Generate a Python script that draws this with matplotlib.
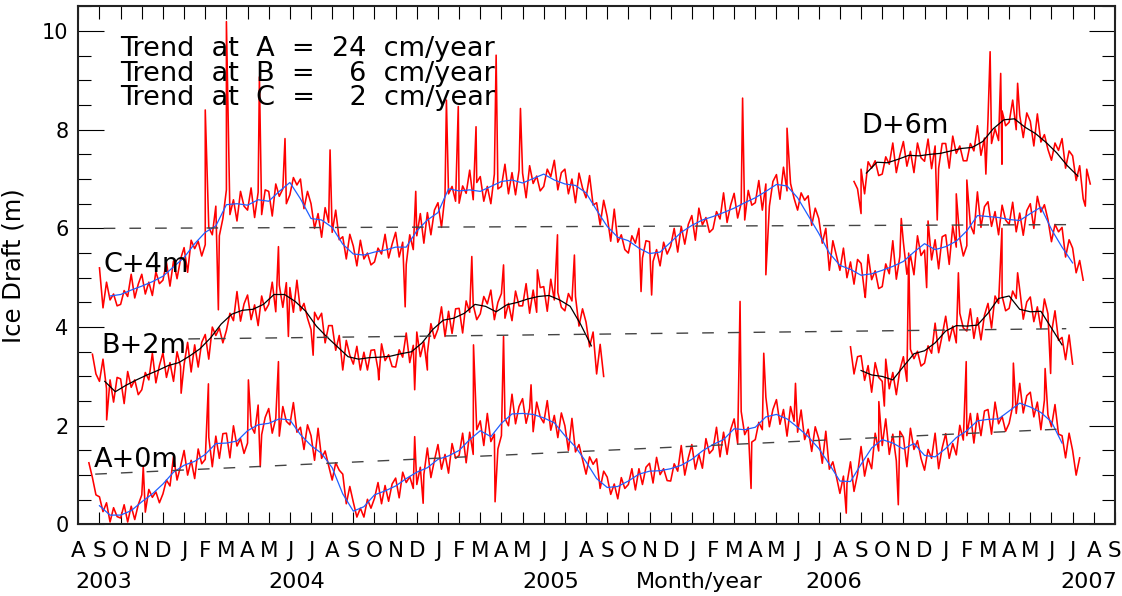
import numpy as np
import matplotlib
matplotlib.use("Agg")
import matplotlib.pyplot as plt
from matplotlib.ticker import MultipleLocator
import matplotlib.transforms as mtransforms

# time axis is in months since 1 Aug 2003 (0 = Aug 2003, 49 = Sep 2007)
month_letters = list("ASOND" + "JFMAMJJASOND" * 3 + "JFMAMJJAS")
year_labels = ["2003", "2004", "2005", "Month/year", "2006", "2007"]
year_pos = [1.22, 10.34, 22.35, 29.35, 35.7, 47.75]

RED_STEP = 1.0 / 6.0   # red records sampled about every 5 days
MEAN_STEP = 0.5        # running means read every half month

# ---- mooring A (offset 0 m) ----
a_red_start = 0.5
a_red = [1.25, 0.95, 0.60,
         0.56, 0.26, 0.44, 0.05, 0.34, 0.16,
         0.13, 0.40, 0.05, 0.37, 0.10, 0.40,
         0.60, 0.25, 0.71, 0.55, 0.66, 0.44,
         0.62, 0.90, 0.78, 1.38, 0.90, 1.18,
         1.50, 1.00, 1.30, 0.93, 1.53, 1.23,
         1.32, 1.77, 1.17, 1.79, 1.34, 1.84,
         1.85, 1.35, 2.00, 1.59, 1.74, 1.44,
         1.65, 2.00, 1.85, 2.42, 1.82, 2.17,
         2.35, 1.85, 2.15, 1.79, 2.39, 2.09,
         2.02, 2.47, 1.87, 1.97, 1.52, 2.02,
         1.80, 1.30, 1.95, 1.34, 1.49, 1.19,
         0.90, 1.25, 1.10, 1.02, 0.42, 0.77,
         0.45, 0.15, 0.33, 0.15, 0.51, 0.33,
         0.53, 0.85, 0.42, 0.79, 0.47, 0.82,
         0.94, 0.54, 1.06, 0.85, 0.97, 0.73,
         0.81, 1.16, 1.01, 1.55, 0.95, 1.30,
         1.62, 1.12, 1.42, 1.04, 1.64, 1.34,
         1.40, 1.85, 1.25, 1.87, 1.42, 1.92,
         2.10, 1.60, 2.25, 1.68, 1.83, 1.53,
         1.80, 2.15, 2.00, 2.64, 2.04, 2.39,
         2.55, 2.05, 2.35, 1.88, 2.48, 2.18,
         2.06, 2.51, 1.91, 2.21, 1.76, 2.26,
         2.00, 1.50, 2.15, 1.47, 1.62, 1.32,
         1.02, 1.37, 1.22, 1.33, 0.73, 1.08,
         0.96, 0.61, 0.82, 0.52, 0.95, 0.73,
         0.81, 1.13, 0.70, 1.13, 0.81, 1.16,
         1.24, 0.84, 1.36, 1.01, 1.13, 0.89,
         0.88, 1.23, 1.08, 1.60, 1.00, 1.35,
         1.62, 1.12, 1.42, 1.14, 1.74, 1.44,
         1.52, 1.97, 1.37, 1.87, 1.42, 1.92,
         2.14, 1.64, 2.29, 1.82, 1.97, 1.67,
         1.72, 2.07, 1.92, 2.58, 1.98, 2.33,
         2.53, 2.03, 2.33, 1.79, 2.39, 2.09,
         1.87, 2.32, 1.72, 1.93, 1.48, 1.98,
         1.74, 1.24, 1.89, 1.12, 1.27, 0.97,
         0.63, 0.98, 0.83, 1.27, 0.67, 1.02,
         1.58, 0.98, 1.34, 1.13, 1.85, 1.49,
         1.60, 2.14, 1.42, 1.83, 1.29, 1.89,
         1.77, 1.17, 1.95, 1.52, 1.70, 1.34,
         1.10, 1.52, 1.34, 1.85, 1.13, 1.55,
         1.84, 1.34, 1.64, 1.41, 2.01, 1.71,
         1.80, 2.25, 1.65, 2.25, 1.80, 2.30,
         2.33, 1.83, 2.48, 2.04, 2.19, 1.89,
         2.05, 2.40, 2.25, 2.86, 2.26, 2.61,
         2.68, 2.18, 2.48, 1.92, 2.52, 2.22,
         1.98, 2.43, 1.83, 1.80, 1.35, 1.85,
         1.50, 1.00, 1.35]
a_spike_t = [3.07, 6.15, 8.04, 8.6, 9.46, 15.9, 16.3, 18.68, 19.7, 20.1, 21.4,
             31.28, 31.8, 32.4, 33.9, 36.3, 37.84, 38.76, 41.97, 44.2, 45.7]
a_spike_v = [1.17, 2.85, 2.93, 1.17, 3.30, 1.78, 0.43, 3.64, 0.46, 3.81, 2.83,
             4.52, 0.73, 3.47, 2.86, 0.23, 2.49, 0.40, 3.30, 3.27, 3.16]
a_mean_start = 1.0
a_mean = [0.38, 0.19, 0.19, 0.28, 0.46, 0.62, 0.82, 1.06, 1.20, 1.28,
          1.42, 1.64, 1.65, 1.69, 1.90, 2.02, 2.05, 2.14, 2.12, 1.82,
          1.60, 1.44, 1.15, 0.62, 0.27, 0.36, 0.60, 0.68, 0.78, 0.93,
          1.06, 1.15, 1.32, 1.39, 1.50, 1.72, 1.90, 1.78, 2.05, 2.24,
          2.25, 2.23, 2.16, 2.06, 1.80, 1.57, 1.27, 0.93, 0.75, 0.77,
          0.88, 1.02, 1.08, 1.09, 1.13, 1.20, 1.32, 1.49, 1.62, 1.72,
          1.94, 1.92, 1.97, 2.18, 2.23, 2.14, 1.97, 1.78, 1.54, 1.22,
          0.88, 0.87, 1.22, 1.55, 1.72, 1.65, 1.53, 1.64, 1.40, 1.37,
          1.54, 1.76, 1.90, 2.10, 2.13, 2.14, 2.30, 2.46, 2.38, 2.27,
          2.08, 1.65]

# ---- mooring C (offset +4 m) ----
c_red_start = 1.0
c_red = [5.20, 4.39, 4.91, 4.55, 4.67, 4.43,
         4.46, 4.74, 4.62, 5.07, 4.59, 4.87,
         5.07, 4.67, 4.91, 4.64, 5.12, 4.88,
         4.95, 5.31, 4.83, 5.34, 4.98, 5.38,
         5.61, 5.11, 5.76, 5.59, 5.74, 5.44,
         5.67, 6.02, 5.87, 6.45, 5.85, 6.20,
         6.78, 6.28, 6.58, 6.15, 6.75, 6.45,
         6.37, 6.82, 6.22, 6.73, 6.28, 6.78,
         6.75, 6.25, 6.90, 6.65, 6.80, 6.50,
         6.68, 7.03, 6.88, 7.00, 6.40, 6.75,
         6.50, 6.00, 6.30, 5.82, 6.42, 6.12,
         5.92, 6.37, 5.77, 5.83, 5.38, 5.88,
         5.64, 5.24, 5.76, 5.38, 5.50, 5.26,
         5.32, 5.60, 5.48, 5.88, 5.40, 5.68,
         5.92, 5.42, 5.72, 5.27, 5.87, 5.57,
         5.85, 6.30, 5.70, 6.32, 5.87, 6.37,
         6.52, 6.02, 6.67, 6.70, 6.85, 6.55,
         6.51, 6.86, 6.71, 7.18, 6.58, 6.93,
         7.05, 6.55, 6.85, 6.50, 7.10, 6.80,
         6.85, 7.30, 6.70, 7.13, 6.68, 7.18,
         7.12, 6.62, 7.27, 6.91, 7.06, 6.76,
         6.85, 7.20, 7.05, 7.38, 6.78, 7.13,
         7.20, 6.70, 7.00, 6.52, 7.12, 6.82,
         6.62, 7.07, 6.47, 6.52, 6.07, 6.57,
         6.24, 5.74, 6.39, 5.72, 5.87, 5.57,
         5.50, 5.85, 5.70, 6.00, 5.40, 5.75,
         5.73, 5.33, 5.57, 5.24, 5.72, 5.48,
         5.64, 6.00, 5.52, 6.04, 5.68, 6.08,
         6.26, 5.76, 6.41, 6.07, 6.22, 5.92,
         5.99, 6.34, 6.19, 6.72, 6.12, 6.47,
         6.71, 6.21, 6.51, 6.17, 6.77, 6.47,
         6.52, 6.97, 6.37, 6.90, 6.45, 6.95,
         7.09, 6.59, 7.24, 6.76, 6.91, 6.61,
         6.37, 6.72, 6.57, 6.66, 6.06, 6.41,
         6.20, 5.70, 6.00, 5.15, 5.75, 5.45,
         5.15, 5.60, 5.00, 5.32, 4.87, 5.37,
         5.29, 4.69, 5.47, 4.96, 5.14, 4.78,
         4.82, 5.28, 5.08, 5.75, 4.97, 5.43,
         5.72, 5.07, 5.46, 5.06, 5.85, 5.45,
         5.56, 6.15, 5.36, 5.77, 5.18, 5.83,
         5.87, 5.27, 6.05, 5.62, 5.80, 5.44,
         5.65, 6.07, 5.89, 6.74, 6.02, 6.44,
         6.54, 6.04, 6.34, 5.87, 6.47, 6.17,
         6.08, 6.53, 5.93, 6.31, 5.86, 6.36,
         6.50, 6.00, 6.65, 6.33, 6.48, 6.18,
         5.73, 6.08, 5.93, 6.02, 5.42, 5.77,
         5.60, 5.10, 5.35, 4.95]
c_spike_t = [6.0, 6.62, 7.0, 8.56, 9.77, 11.9, 15.45, 15.95, 17.4, 17.96, 18.8,
             19.75, 20.9, 26.6, 27.1, 31.4, 32.5, 33.5, 37.2, 38.9, 40.1, 41.5, 42.0]
c_spike_v = [8.40, 4.35, 10.19, 9.07, 7.82, 7.59, 4.41, 6.75, 8.60, 8.47, 8.06,
             9.51, 8.43, 4.72, 4.65, 8.64, 5.06, 8.03, 4.60, 6.20, 4.80, 6.70, 6.98]
c_mean_start = 1.5
c_mean = [4.63, 4.66, 4.75, 4.83, 4.92, 5.03, 5.22, 5.41, 5.69, 5.92,
          6.05, 6.48, 6.50, 6.47, 6.58, 6.55, 6.75, 6.93, 6.60, 6.20,
          6.17, 6.02, 5.68, 5.48, 5.46, 5.52, 5.56, 5.62, 5.62, 5.95,
          6.17, 6.32, 6.80, 6.76, 6.78, 6.75, 6.85, 6.95, 6.98, 6.92,
          7.01, 7.10, 6.98, 6.90, 6.87, 6.72, 6.37, 6.04, 5.82, 5.75,
          5.60, 5.49, 5.52, 5.72, 5.92, 6.06, 6.17, 6.24, 6.32, 6.41,
          6.52, 6.62, 6.75, 6.89, 6.86, 6.62, 6.26, 5.90, 5.50, 5.25,
          5.17, 5.05, 5.08, 5.15, 5.23, 5.33, 5.52, 5.69, 5.57, 5.63,
          5.74, 5.95, 6.26, 6.24, 6.22, 6.18, 6.16, 6.30, 6.43, 5.98,
          5.62, 5.30]

# ---- mooring B (offset +2 m), two deployments ----
b1_red_start = 0.6667
b1_red = [3.45, 3.05,
          2.90, 3.35, 2.75, 2.93, 2.48, 2.98,
          2.95, 2.45, 3.10, 2.78, 2.93, 2.63,
          2.73, 3.08, 2.93, 3.47, 2.87, 3.22,
          3.48, 2.98, 3.28, 2.90, 3.50, 3.20,
          3.24, 3.69, 3.09, 3.64, 3.19, 3.69,
          3.85, 3.35, 4.00, 3.83, 3.98, 3.68,
          3.93, 4.28, 4.13, 4.72, 4.12, 4.47,
          4.65, 4.15, 4.45, 4.03, 4.63, 4.33,
          4.46, 4.91, 4.31, 4.85, 4.40, 4.90,
          4.80, 4.30, 4.95, 4.33, 4.48, 4.18,
          3.95, 4.30, 4.15, 4.28, 3.68, 4.03,
          4.03, 3.53, 3.83, 3.13, 3.73, 3.43,
          3.25, 3.61, 3.13, 3.49, 3.13, 3.53,
          3.54, 3.14, 3.66, 3.32, 3.44, 3.20,
          3.19, 3.54, 3.39, 3.88, 3.28, 3.63,
          3.90, 3.40, 3.70, 3.47, 4.07, 3.77,
          3.96, 4.41, 3.81, 4.32, 3.87, 4.37,
          4.38, 3.88, 4.53, 4.30, 4.45, 4.15,
          4.27, 4.62, 4.47, 4.75, 4.15, 4.50,
          4.68, 4.18, 4.48, 4.13, 4.73, 4.43,
          4.43, 4.88, 4.28, 4.75, 4.30, 4.80,
          4.82, 4.32, 4.97, 4.55, 4.70, 4.40,
          4.33, 4.68, 4.53, 4.62, 4.02, 4.37,
          4.10, 3.60, 3.90, 3.05, 3.65, 3.00]
b1_spike_t = [1.34, 4.86, 9.46, 9.93, 11.1, 14.2, 15.9, 16.5, 18.6, 20.1, 21.7, 22.65, 23.45]
b1_spike_v = [2.12, 2.66, 5.63, 3.81, 3.43, 2.93, 2.73, 3.13, 5.43, 5.26, 5.16, 5.87, 5.46]
b1_mean_start = 1.25
b1_mean = [2.90, 2.69, 2.82, 2.93, 3.03, 3.12, 3.22, 3.28, 3.41, 3.56,
           3.78, 4.06, 4.26, 4.34, 4.36, 4.46, 4.66, 4.66, 4.52, 4.32,
           4.02, 3.80, 3.60, 3.40, 3.35, 3.38, 3.39, 3.41, 3.46, 3.50,
           3.68, 3.95, 4.14, 4.18, 4.28, 4.46, 4.42, 4.31, 4.45, 4.50,
           4.57, 4.62, 4.64, 4.55, 4.42, 4.05, 3.62]

b2_red_start = 36.5
b2_red = [3.60, 3.05, 3.40,
          3.42, 2.92, 3.22, 2.68, 3.28, 2.98,
          2.90, 3.35, 2.75, 3.08, 2.63, 3.13,
          3.40, 2.90, 3.55, 3.36, 3.51, 3.21,
          3.27, 3.62, 3.47, 4.08, 3.48, 3.83,
          4.22, 3.72, 4.02, 3.68, 4.28, 3.98,
          3.92, 4.37, 3.77, 4.19, 3.74, 4.24,
          4.48, 3.98, 4.63, 4.48, 4.63, 4.33,
          4.38, 4.73, 4.58, 4.76, 4.16, 4.51,
          4.61, 4.11, 4.41, 3.97, 4.57, 4.27,
          3.88, 4.33, 3.73, 3.79, 3.34, 3.84,
          3.25]
b2_spike_t = [38.1, 39.25, 41.6, 43.66, 44.4, 45.96]
b2_spike_v = [2.40, 5.50, 5.10, 6.00, 5.10, 3.06]
b2_mean_start = 37.0
b2_mean = [3.12, 3.03, 3.00, 2.93, 3.20, 3.46, 3.52, 3.68, 3.92, 4.03,
           4.02, 4.04, 4.28, 4.58, 4.63, 4.36, 4.31, 4.32, 3.98, 3.64]

# ---- mooring D (offset +6 m) ----
d_red_start = 36.6667
d_red = [6.95, 6.80,
         7.20, 6.70, 7.35, 7.22, 7.37, 7.07,
         7.10, 7.45, 7.30, 7.73, 7.13, 7.48,
         7.76, 7.26, 7.56, 7.13, 7.73, 7.43,
         7.36, 7.81, 7.21, 7.67, 7.22, 7.72,
         7.72, 7.22, 7.87, 7.52, 7.67, 7.37,
         7.37, 7.72, 7.57, 8.08, 7.48, 7.83,
         8.22, 7.72, 8.02, 7.78, 8.38, 8.08,
         8.15, 8.60, 8.00, 8.29, 7.84, 8.34,
         8.17, 7.67, 8.32, 7.75, 7.90, 7.60,
         7.38, 7.73, 7.58, 7.82, 7.22, 7.57,
         7.47, 6.97, 7.27, 6.60, 7.20, 6.90]
d_spike_t = [37.0, 40.6, 42.9, 43.1, 43.6, 43.66, 44.4, 47.6]
d_spike_v = [6.30, 6.17, 7.10, 9.58, 9.14, 7.30, 8.94, 6.45]
d_mean_start = 37.25
d_mean = [7.12, 7.34, 7.33, 7.40, 7.48, 7.47, 7.50, 7.52, 7.57, 7.62,
          7.64, 7.76, 8.02, 8.20, 8.22, 8.05, 7.92, 7.74, 7.53, 7.27, 7.06]

# linear trends (A, B, C)
trend_start_m = [0.8, 5.2, 1.2]
trend_start_v = [1.02, 3.76, 6.00]
trend_rate = [24, 6, 2]   # cm/year
trend_end_m = 46.7

series_labels = ["A+0m", "B+2m", "C+4m", "D+6m"]
series_label_pos = [(0.71, 1.17), (1.1, 3.47), (1.18, 5.12), (37.0, 7.93)]


def red_curve(start, vals, spike_t, spike_v):
    t = start + RED_STEP * np.arange(len(vals))
    t = np.concatenate([t, spike_t])
    v = np.concatenate([vals, spike_v])
    order = np.argsort(t, kind="stable")
    return t[order], v[order]


def mean_curve(start, vals):
    return start + MEAN_STEP * np.arange(len(vals)), np.array(vals)


fig = plt.figure(figsize=(11.22, 5.96), dpi=100)
ax = fig.add_axes([0.0698, 0.12, 0.9239, 0.87])

RED = "#ff0000"
BLUE = "#1f5fff"

for start, vals, st, sv in [(a_red_start, a_red, a_spike_t, a_spike_v),
                            (c_red_start, c_red, c_spike_t, c_spike_v),
                            (b1_red_start, b1_red, b1_spike_t, b1_spike_v),
                            (b2_red_start, b2_red, b2_spike_t, b2_spike_v),
                            (d_red_start, d_red, d_spike_t, d_spike_v)]:
    t, v = red_curve(start, vals, st, sv)
    ax.plot(t, v, color=RED, lw=1.15)

for start, vals, col in [(a_mean_start, a_mean, BLUE), (c_mean_start, c_mean, BLUE),
                         (b1_mean_start, b1_mean, "black"), (b2_mean_start, b2_mean, "black"),
                         (d_mean_start, d_mean, "black")]:
    t, v = mean_curve(start, vals)
    ax.plot(t, v, color=col, lw=0.9)

# dashed trend lines
for m0, v0, rate in zip(trend_start_m, trend_start_v, trend_rate):
    v1 = v0 + rate / 100.0 * (trend_end_m - m0) / 12.0
    ax.plot([m0, trend_end_m], [v0, v1], color="#444444", lw=1.0, dashes=(8.4, 10.1))

# annotation text
ax.text(1.97, 9.49, "Trend  at  A  =  24  cm/year", fontsize=19.5, va="baseline")
ax.text(1.97, 8.99, "Trend  at  B  =    6  cm/year", fontsize=19.5, va="baseline")
ax.text(1.97, 8.50, "Trend  at  C  =    2  cm/year", fontsize=19.5, va="baseline")
for lab, (xm, yv) in zip(series_labels, series_label_pos):
    ax.text(xm, yv, lab, fontsize=19.5, va="baseline")

ax.set_xlim(0, 49)
ax.set_ylim(0, 10.507)

ax.set_xticks(np.arange(len(month_letters)))
ax.set_xticklabels(month_letters)
ax.tick_params(axis="x", direction="in", length=9, width=0.8, top=True,
               pad=12, labelsize=15.5)
ax.set_yticks([0, 2, 4, 6, 8, 10])
ax.yaxis.set_minor_locator(MultipleLocator(0.5))
ax.tick_params(axis="y", which="major", direction="in", length=19, width=0.8,
               right=True, pad=7, labelsize=15)
ax.tick_params(axis="y", which="minor", direction="in", length=9.5, width=0.8,
               right=True)
for sp in ax.spines.values():
    sp.set_linewidth(1.5)
    sp.set_color("#222222")

# year row under month letters
trans = mtransforms.blended_transform_factory(ax.transData, ax.transAxes)
for lab, xm in zip(year_labels, year_pos):
    ax.text(xm, -0.1225, lab, transform=trans, ha="center", va="baseline",
            fontsize=16)

fig.text(13.5 / 1122, 1 - 266 / 596, "Ice Draft (m)", rotation=90,
         ha="center", va="center", fontsize=17.5)

fig.savefig("out.png", dpi=100)
